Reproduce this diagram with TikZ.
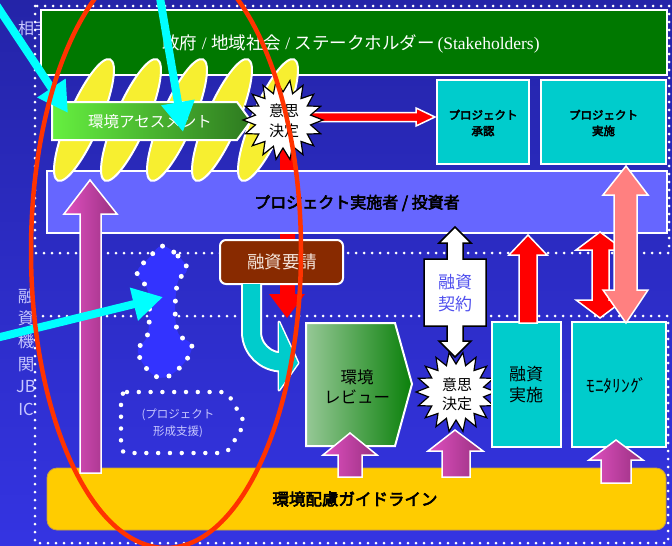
\documentclass[tikz,border=0pt]{standalone}
\usepackage{fontspec}
\setmainfont{Noto Sans CJK JP}[AutoFakeBold=3.5]
\newfontfamily\serifen{Liberation Serif}
\usetikzlibrary{arrows.meta}
\definecolor{bgtop}{HTML}{2424A8}
\definecolor{bgbot}{HTML}{3434E2}
\definecolor{govgreen}{HTML}{007800}
\definecolor{purp}{HTML}{6666FF}
\definecolor{yelc}{HTML}{F7EF30}
\definecolor{cyanbox}{HTML}{00CCCC}
\definecolor{brownc}{HTML}{882A00}
\definecolor{yelbar}{HTML}{FFCC00}
\definecolor{yelbord}{HTML}{C8A040}
\definecolor{redc}{HTML}{FF0000}
\definecolor{pinkc}{HTML}{FF8080}
\definecolor{cyanl}{HTML}{00FFFF}
\definecolor{blobc}{HTML}{3333FF}
\definecolor{magL}{HTML}{E050C0}
\definecolor{magR}{HTML}{983080}
\definecolor{asmL}{HTML}{66F040}
\definecolor{asmR}{HTML}{2E7A20}
\definecolor{revL}{HTML}{96C896}
\definecolor{revR}{HTML}{0A800A}
\definecolor{redell}{HTML}{FF3300}
\definecolor{lav}{HTML}{C8C8FF}
\definecolor{keiyakuc}{HTML}{5050EE}
\definecolor{reqtext}{HTML}{F4E4DA}
\newcommand\myfs[2]{\fontsize{#1}{#2}\selectfont}
\newcommand\myburst[2]{\draw[burst] plot[variable=\k, samples at={0,...,35}] ({#1+(34+6*cos(180*\k))*cos(10*\k)},{#2+(34+6*cos(180*\k))*sin(10*\k)}) -- cycle;}
\begin{document}
\begin{tikzpicture}[x=1pt,y=-1pt,
  dotl/.style={white, line width=3pt, dash pattern=on 0pt off 8pt, line cap=round},
  boxw/.style={draw=white, line width=2pt},
  yelell/.style={fill=yelc, draw=white, line width=2pt},
  burst/.style={fill=white, draw=black, line width=1.2pt},
  cbox/.style={fill=cyanbox, draw=white, line width=2pt},
  mag/.style={left color=magL, right color=magR, draw=white, line width=1.5pt},
  redarr/.style={fill=redc, draw=white, line width=1.5pt},
  cyanarr/.style={draw=cyanl, line width=8pt, -{Triangle[length=30pt,width=32pt]}},
  txt/.style={align=center, inner sep=0pt},
]
\useasboundingbox (0,0) rectangle (672,546);
\shade[top color=bgtop,bottom color=bgbot] (0,0) rectangle (672,546);
\clip (0,0) rectangle (672,546);

% labels under everything
\node[txt, anchor=west, text=lav, font=\myfs{16}{18}] (aite) at (18,28) {相手};
\node[txt, text=lav, font=\myfs{16.5}{22.6}] (jbic) at (26,352) {融\\資\\機\\関\\JB\\IC};

% dotted frames
\draw[dotl] (35,6) rectangle (669,253);
\draw[dotl] (35,316) rectangle (668,543);

% red down arrow (behind boxes)
\fill[redc] (280,150) -- (295,150) -- (295,294) -- (305,294) -- (287,318) -- (269,294) -- (280,294) -- cycle;

% top green box
\draw[boxw, fill=govgreen, line width=2.5pt] (41,10) rectangle (667,75);
\node[txt, text=white, font=\myfs{17.5}{20}] (gov) at (351,44) {政府{\serifen\ /\ }地域社会{\serifen\ /\ }ステークホルダー{\serifen\,(Stakeholders)}};

% purple box
\draw[boxw, fill=purp] (47,171) rectangle (667,233);

% yellow ellipses
\foreach \cx in {84,131,177,222,268}
  \draw[yelell, rotate around={66.7:(\cx,120)}] (\cx,120) ellipse [x radius=66, y radius=16];

% assessment arrow box
\draw[boxw, left color=asmL, right color=asmR] (52,102) -- (237,102) -- (251,121) -- (237,140) -- (52,140) -- cycle;
\node[txt, text=white, font=\myfs{15.5}{18}] (asm) at (150,122) {環境アセスメント};

% red arrow to approval
\draw[redarr] (300,112.5) -- (416,112.5) -- (416,108) -- (435,117) -- (416,126) -- (416,121.5) -- (300,121.5) -- cycle;

% starburst 1
\myburst{283}{120}
\node[txt, font=\myfs{15}{20}] (ishi1) at (284,121) {意思\\決定};

% top cyan boxes
\draw[cbox] (437,80) rectangle (529,164);
\node[txt, font=\bfseries\myfs{11.5}{16}] (shonin) at (483,123) {プロジェクト\\承認};
\draw[cbox] (541,80) rectangle (666,164);
\node[txt, font=\bfseries\myfs{11.5}{16}] (pjisshi) at (603.5,123) {プロジェクト\\実施};

% purple box text
\node[txt, font=\bfseries\myfs{16}{18}] (impl) at (357,203) {プロジェクト実施者 / 投資者};

% brown request box
\draw[boxw, fill=brownc, rounded corners=6pt] (220,240) rectangle (343,284);
\node[txt, text=reqtext, font=\myfs{17.5}{20}] (req) at (282,262) {融資要請};

% cyan U arrow
\draw[white, line width=21pt] (251.5,284) -- (251.5,332) to[out=-90,in=180] (282,362);
\draw[white, fill=white, line width=3pt, line join=round] (279,322) -- (298,363) -- (279,390) -- cycle;
\draw[cyanbox, line width=17pt] (251.5,284) -- (251.5,332) to[out=-90,in=180] (282,362);
\fill[cyanbox] (279,322) -- (298,363) -- (279,390) -- cycle;

% environmental review pentagon
\draw[boxw, left color=revL, right color=revR] (306,323) -- (395,323) -- (412,384) -- (395,446) -- (306,446) -- cycle;
\node[txt, font=\myfs{16.5}{20}] (rev) at (357,387) {環境\\レビュー};

% white double arrow (contract)
\draw[fill=white, draw=black, line width=1.5pt] (455,227) -- (471,243) -- (463,243) -- (463,259) -- (486,259) -- (486,326) -- (463,326) -- (463,341) -- (471,341) -- (455,357) -- (439,341) -- (447,341) -- (447,326) -- (424,326) -- (424,259) -- (447,259) -- (447,243) -- (439,243) -- cycle;
\node[txt, text=keiyakuc, font=\myfs{17}{22}] (keiyaku) at (455,293) {融資\\契約};

% starburst 2
\myburst{456}{392}
\node[txt, font=\myfs{15}{19}] (ishi2) at (457,394) {意思\\決定};

% bottom cyan boxes
\draw[cbox] (492,322) rectangle (561,447);
\node[txt, font=\myfs{17}{21}] (yushi) at (526,385) {融資\\実施};
\draw[cbox] (572,322) rectangle (666,447);
\node[txt, font=\myfs{17.5}{20}] (moni) at (617,386) {ﾓﾆﾀﾘﾝｸﾞ};

% red up arrow
\draw[redarr] (519,323) -- (519,255) -- (509,255) -- (528,235) -- (547,255) -- (537,255) -- (537,323) -- cycle;
% red double arrow
\draw[redarr] (600,232) -- (624,250) -- (609,250) -- (609,300) -- (624,300) -- (600,318) -- (576,300) -- (592,300) -- (592,250) -- (576,250) -- cycle;
% pink double arrow
\draw[redarr, fill=pinkc] (626,166) -- (648,195) -- (637,195) -- (637,290) -- (648,290) -- (626,323) -- (603,290) -- (614,290) -- (614,195) -- (603,195) -- cycle;

% yellow guideline bar
\draw[fill=yelbar, draw=yelbord, line width=0.8pt, rounded corners=10pt] (47,468) rectangle (666,530);
\node[txt, font=\bfseries\myfs{16.5}{18}] (guide) at (355,499) {環境配慮ガイドライン};

% magenta arrows
\draw[mag] (90,180) -- (117,214) -- (101,214) -- (101,473) -- (80,473) -- (80,214) -- (64,214) -- cycle;
\draw[mag] (350,433) -- (377,455) -- (362,455) -- (362,477) -- (338,477) -- (338,455) -- (323,455) -- cycle;
\draw[mag] (455,430) -- (483,451) -- (470,451) -- (470,477) -- (442,477) -- (442,451) -- (428,451) -- cycle;
\draw[mag] (616,440) -- (643,460) -- (631,460) -- (631,483) -- (601,483) -- (601,460) -- (589,460) -- cycle;

% dotted blob
\path[fill=blobc] plot[smooth cycle, tension=0.7] coordinates {(162,246) (178,256) (187,270) (177,285) (177,330) (192,347) (175,372) (155,376) (138,352) (148,333) (148,292) (137,273) (150,257)};
\draw[white, line width=5pt, dash pattern=on 0pt off 13pt, line cap=round] plot[smooth cycle, tension=0.7] coordinates {(162,246) (178,256) (187,270) (177,285) (177,330) (192,347) (175,372) (155,376) (138,352) (148,333) (148,292) (137,273) (150,257)};

% dotted project formation box
\draw[white, line width=4.5pt, dash pattern=on 0pt off 11.8pt, line cap=round, rounded corners=6pt] (121,392) -- (227,392) -- (245,423) -- (227,453) -- (121,453) -- cycle;
\node[txt, text=lav, font=\myfs{11.5}{17}] (form) at (178,423) {(プロジェクト\\形成支援)};

% cyan pointer arrows
\coordinate (c1s) at (-13,-9);
\coordinate (c1e) at (68,113);
\coordinate (c2s) at (159,-8);
\coordinate (c2e) at (183,132);
\coordinate (c3s) at (-10,339.5);
\coordinate (c3e) at (163,297);
\draw[cyanarr] (c1s) -- (c1e);
\draw[cyanarr] (c2s) -- (c2e);
\draw[cyanarr] (c3s) -- (c3e);

% red ellipse
\draw[redell, line width=4.5pt] (166,251) ellipse [x radius=135, y radius=297];
\end{tikzpicture}
\end{document}
